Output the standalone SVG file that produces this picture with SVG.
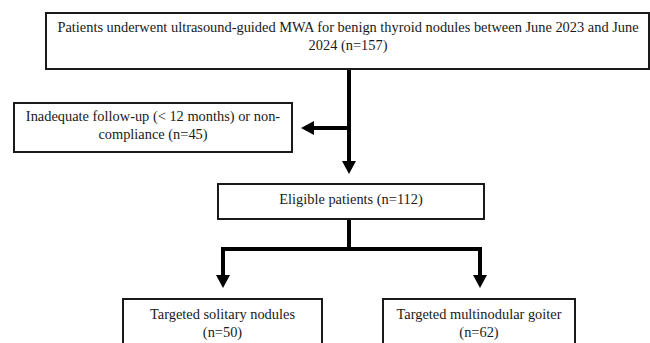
<svg xmlns="http://www.w3.org/2000/svg" width="650" height="343" viewBox="0 0 650 343">
<style>
.box{fill:#fff;stroke:#1a1a1a;stroke-width:2}
.t{font-family:"Liberation Serif","Times New Roman",serif;font-size:14.4px;fill:#1a1a1a;text-anchor:middle}
.ln{fill:none;stroke:#000;stroke-width:4}
.hd{fill:#000}
</style>
<rect width="650" height="343" fill="#fff"/>
<g id="connectors">
<line class="ln" x1="349" y1="69" x2="349" y2="161"/>
<polygon class="hd" points="342,161 356,161 349,174"/>
<line class="ln" x1="351" y1="128" x2="313" y2="128"/>
<polygon class="hd" points="314,121 314,135 301,128"/>
<line class="ln" x1="349" y1="219" x2="349" y2="249"/>
<polyline class="ln" points="223,276 223,249 480,249 480,276"/>
<polygon class="hd" points="216,275 230,275 223,288"/>
<polygon class="hd" points="473,275 487,275 480,288"/>
</g>
<g id="n1">
<rect class="box" x="46" y="13" width="603" height="56"/>
<text class="t" x="348" y="32">Patients underwent ultrasound-guided MWA for benign thyroid nodules between June 2023 and June</text>
<text class="t" x="348" y="50">2024 (n=157)</text>
</g>
<g id="n2">
<rect class="box" x="14" y="103" width="278" height="49"/>
<text class="t" x="153" y="121">Inadequate follow-up (&lt; 12 months) or non-</text>
<text class="t" x="153" y="139">compliance (n=45)</text>
</g>
<g id="n3">
<rect class="box" x="218" y="184" width="266" height="35"/>
<text class="t" x="351" y="204">Eligible patients (n=112)</text>
</g>
<g id="n4">
<rect class="box" x="123" y="299" width="199" height="60"/>
<text class="t" x="222.5" y="319">Targeted solitary nodules</text>
<text class="t" x="222.5" y="337">(n=50)</text>
</g>
<g id="n5">
<rect class="box" x="383" y="299" width="192" height="60"/>
<text class="t" x="479" y="319">Targeted multinodular goiter</text>
<text class="t" x="479" y="337">(n=62)</text>
</g>
</svg>
